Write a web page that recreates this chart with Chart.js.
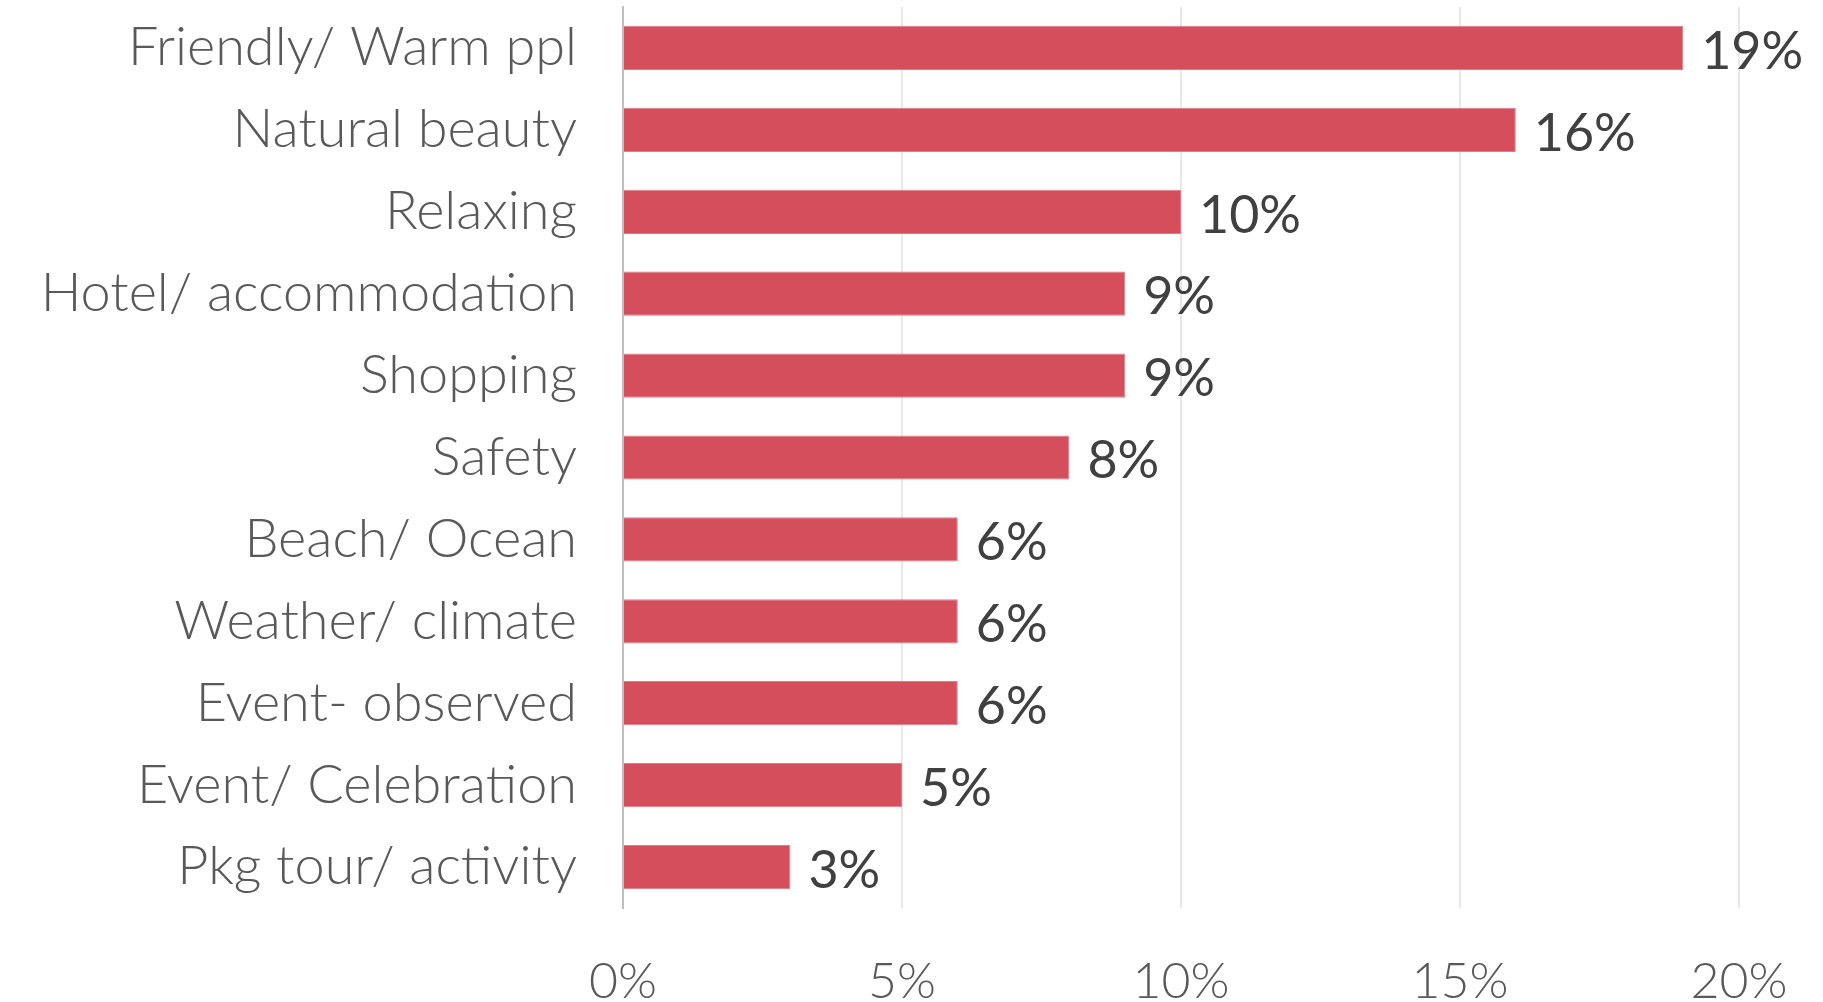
<!DOCTYPE html>
<html>
<head>
<meta charset="utf-8">
<script src="https://cdn.jsdelivr.net/npm/chart.js@4"></script>
<style>
  html, body { margin: 0; padding: 0; background: #fff; }
  #wrap { width: 1823px; height: 1002px; }
</style>
</head>
<body>
<div id="wrap"><canvas id="chart" width="1823" height="1002"></canvas></div>
<script>
const categories = [
  "Friendly/ Warm ppl",
  "Natural beauty",
  "Relaxing",
  "Hotel/ accommodation",
  "Shopping",
  "Safety",
  "Beach/ Ocean",
  "Weather/ climate",
  "Event- observed",
  "Event/ Celebration",
  "Pkg tour/ activity"
];
const shares = [19, 16, 10, 9, 9, 8, 6, 6, 6, 5, 3];
const xTicks = [0, 5, 10, 15, 20];

const fontFamily = "Lato, 'Noto Sans', sans-serif";

// draws the "19%" style labels at the end of each bar
const barLabels = {
  id: "barLabels",
  afterDatasetsDraw(chart) {
    const ctx = chart.ctx;
    const meta = chart.getDatasetMeta(0);
    ctx.save();
    ctx.font = "52px " + fontFamily;
    ctx.fillStyle = "#404040";
    ctx.textAlign = "left";
    ctx.textBaseline = "middle";
    meta.data.forEach((bar, i) => {
      ctx.fillText(shares[i] + "%", bar.x + 18, bar.y + 4);
    });
    ctx.restore();
  }
};

new Chart(document.getElementById("chart"), {
  type: "bar",
  data: {
    labels: categories,
    datasets: [{
      data: shares,
      backgroundColor: "#d44e5c",
      borderColor: "#e07a85",
      borderWidth: 1,
      categoryPercentage: 0.54,
      barPercentage: 1
    }]
  },
  options: {
    indexAxis: "y",
    responsive: false,
    animation: false,
    layout: { padding: { top: 7, right: 84, left: 0, bottom: 0 } },
    plugins: { legend: { display: false }, tooltip: { enabled: false } },
    scales: {
      x: {
        min: 0,
        max: 20,
        afterBuildTicks(scale) {
          scale.ticks = xTicks.map(v => ({ value: v }));
        },
        afterFit(scale) {
          scale.height = 94;
          scale.paddingLeft = 0;
          scale.paddingRight = 0;
        },
        grid: { color: "#e8e8e8", lineWidth: 2, drawTicks: false },
        border: { display: false },
        ticks: {
          padding: 44,
          color: "#595959",
          font: { family: fontFamily, size: 50, weight: 300 },
          callback: v => v + "%"
        }
      },
      y: {
        afterFit(scale) {
          scale.width = 623;
          scale.paddingTop = 0;
          scale.paddingBottom = 0;
        },
        grid: { display: false },
        border: { display: true, color: "#bfbfbf", width: 2 },
        ticks: {
          padding: 38,
          color: "#595959",
          font: { family: fontFamily, size: 54, weight: 300 }
        }
      }
    }
  },
  plugins: [barLabels]
});
</script>
</body>
</html>
